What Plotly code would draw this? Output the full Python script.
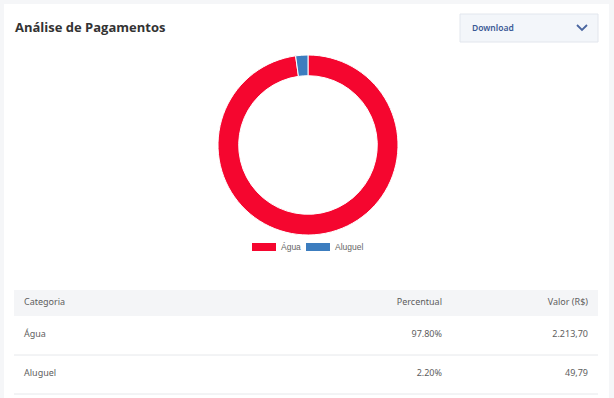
import plotly.graph_objects as go

# ---- data ----
categories = ["Água", "Aluguel"]
values = [2213.70, 49.79]
percent_labels = ["97.80%", "2.20%"]
value_labels = ["2.213,70", "49,79"]
table_headers = ["Categoria", "Percentual", "Valor (R$)"]
colors = ["#F5062F", "#3C7DBF"]

W, H = 614, 398

def px(x):
    return x / W

def py(y):
    return 1 - y / H

fig = go.Figure()

# donut
cx, cy, r = 308, 145, 90
fig.add_trace(go.Pie(
    labels=categories, values=values,
    hole=0.77, sort=False, direction="clockwise", rotation=0,
    marker=dict(colors=colors, line=dict(color="white", width=1)),
    textinfo="none", hoverinfo="label+percent",
    domain=dict(x=[px(cx - r), px(cx + r)], y=[py(cy + r), py(cy - r)]),
    showlegend=False,
))

# table
tfont = dict(family="Noto Sans", size=9, color="#5E5E5E")
fig.add_trace(go.Table(
    domain=dict(x=[px(16), px(596)], y=[0, py(290)]),
    columnwidth=[284, 150, 146],
    header=dict(values=table_headers, height=32,
                align=["left", "right", "right"],
                fill_color="rgba(0,0,0,0)",
                line=dict(color="rgba(0,0,0,0)", width=0),
                font=tfont),
    cells=dict(values=[categories, percent_labels, value_labels], height=39,
               align=["left", "right", "right"],
               fill_color="rgba(0,0,0,0)",
               line=dict(color="rgba(0,0,0,0)", width=0),
               font=tfont),
))

shapes = []
annotations = []
# card
shapes.append(dict(type="rect", xref="paper", yref="paper", layer="below",
                   x0=px(4), x1=px(609), y0=py(398), y1=py(4),
                   fillcolor="white", line=dict(width=0)))
# table header bg
shapes.append(dict(type="rect", xref="paper", yref="paper", layer="below",
                   x0=px(14), x1=px(598), y0=py(316), y1=py(290),
                   fillcolor="#F4F5F7", line=dict(width=0)))
# row separators
for yy in [355, 394]:
    shapes.append(dict(type="line", xref="paper", yref="paper", layer="below",
                       x0=px(14), x1=px(598), y0=py(yy), y1=py(yy),
                       line=dict(color="#E6E8EB", width=1)))
# download button
shapes.append(dict(type="rect", xref="paper", yref="paper",
                   x0=px(460), x1=px(598), y0=py(42), y1=py(14),
                   fillcolor="#F3F6FA", line=dict(color="#E2E6ED", width=1)))
shapes.append(dict(type="path", xref="paper", yref="paper",
                   path=f"M{px(577)},{py(25)} L{px(582)},{py(30)} L{px(587)},{py(25)}",
                   line=dict(color="#4A66A0", width=1.8)))
annotations.append(dict(text="Download", x=px(470), y=py(28), xref="paper", yref="paper",
                        xanchor="left", yanchor="middle", showarrow=False,
                        font=dict(family="Noto Sans", size=8.5, color="#3B5A96", weight=600)))
# title
annotations.append(dict(text="<b>Análise de Pagamentos</b>", x=px(13), y=py(27),
                        xref="paper", yref="paper", xanchor="left", yanchor="middle",
                        showarrow=False,
                        font=dict(family="Open Sans", size=13, color="#333")))
# custom legend
leg_x = [252, 306]
for i, name in enumerate(categories):
    x0 = leg_x[i]
    shapes.append(dict(type="rect", xref="paper", yref="paper",
                       x0=px(x0), x1=px(x0 + 24), y0=py(251), y1=py(243),
                       fillcolor=colors[i], line=dict(width=0)))
    annotations.append(dict(text=name, x=px(x0 + 27), y=py(247), xref="paper", yref="paper",
                            xanchor="left", yanchor="middle", showarrow=False,
                            font=dict(family="Liberation Sans", size=8.5, color="#666")))

fig.update_layout(
    width=W, height=H, margin=dict(l=0, r=0, t=0, b=0),
    paper_bgcolor="#F5F6F8", plot_bgcolor="#F5F6F8",
    shapes=shapes, annotations=annotations,
)

fig.write_html("out.html", config={"displayModeBar": False},
               post_script="document.body.style.margin='0';document.body.style.overflow='hidden';")
